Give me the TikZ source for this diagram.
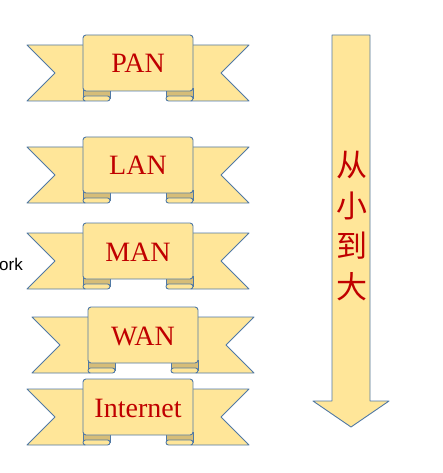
\documentclass[tikz,border=0pt]{standalone}
\usepackage{fontspec}
\setmainfont{Liberation Serif}
\newfontfamily\cjkfont{Noto Sans CJK SC}
\newfontfamily\arialfont{Liberation Sans}
\definecolor{ribyel}{HTML}{FFE699}
\definecolor{ribdk}{HTML}{D6BD78}
\definecolor{ribline}{HTML}{5079A5}
\definecolor{ribred}{HTML}{C00000}
\tikzset{
  ribfill/.style={fill=ribyel, draw=ribline, line width=0.9pt, line join=round},
  ribdark/.style={fill=ribdk, draw=ribline, line width=0.9pt},
  ribtext/.style={text=ribred, font=\fontsize{28}{28}\selectfont, inner sep=0pt, anchor=base},
  cjktext/.style={text=ribred, font=\cjkfont\fontsize{31}{31}\selectfont, inner sep=0pt, anchor=base},
  pics/ribbon/.style={code={
    \draw[ribfill] (0,10) -- (58,10) -- (58,66) -- (0,66) -- (28,38) -- cycle;
    \draw[ribfill] (222,10) -- (164,10) -- (164,66) -- (222,66) -- (194,38) -- cycle;
    \draw[ribdark] (56,53) rectangle (83,63);
    \draw[ribdark] (139,53) rectangle (166,63);
    \draw[ribfill, rounded corners=2.5pt] (56,61) rectangle (83,66);
    \draw[ribfill, rounded corners=2.5pt] (139,61) rectangle (166,66);
    \draw[ribfill, rounded corners=3pt] (56,0) rectangle (166,56);
    \node[ribtext] (-txt) at (111,38) {#1};
  }}
}
\begin{document}
\begin{tikzpicture}[x=1pt,y=-1pt]
\useasboundingbox (0,0) rectangle (442,473);
\fill[white] (0,0) rectangle (442,473);
\pic (pan) at (27,35) {ribbon={PAN}};
\pic (lan) at (27,137) {ribbon={LAN}};
\pic (man) at (27,223) {ribbon={MAN}};
\pic (wan) at (32,307) {ribbon={WAN}};
\pic (inet) at (27,379) {ribbon={Internet}};
\node[font=\arialfont\fontsize{17}{17}\selectfont, inner sep=0pt, anchor=base west] (ork) at (-1,270) {ork};
\draw[ribfill] (332,35) -- (370,35) -- (370,401) -- (389,401) -- (351,427) -- (313,401) -- (332,401) -- cycle;
\node[cjktext] (c1) at (351.5,176.5) {从};
\node[cjktext] (c2) at (351.5,217) {小};
\node[cjktext] (c3) at (351.5,257.5) {到};
\node[cjktext] (c4) at (351.5,298) {大};
\end{tikzpicture}
\end{document}
